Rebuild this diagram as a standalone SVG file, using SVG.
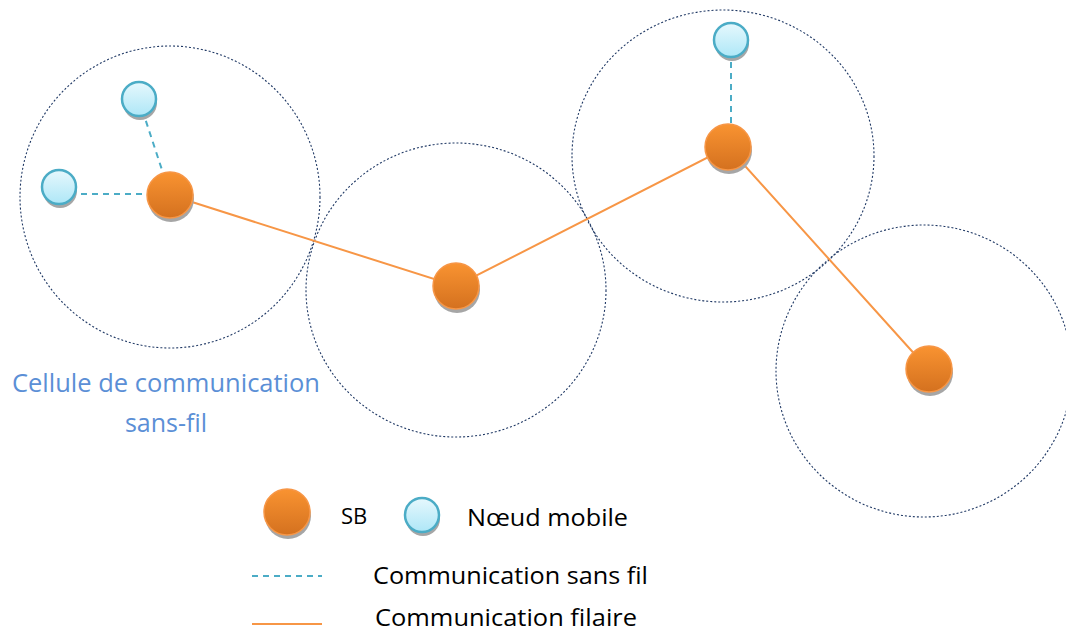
<svg xmlns="http://www.w3.org/2000/svg" width="1066" height="633" viewBox="0 0 1066 633">
<style>
.cell{fill:none;stroke:#1f3864;stroke-width:1.1;stroke-dasharray:2 2}
.wired{stroke:#f79646;stroke-width:2;fill:none}
.wl{stroke:#4bacc6;stroke-width:2;stroke-dasharray:6 5;fill:none}
.sb{fill:url(#gO);stroke:#f79646;stroke-width:1.5}
.mn{fill:url(#gB);stroke:#4bacc6;stroke-width:2.5}
.sh{fill:#a6a6a6}
.t{font-family:"Open Sans","Liberation Sans",sans-serif;fill:#000}
.lab{font-family:"Open Sans","Liberation Sans",sans-serif;fill:#5b8fd6}
</style>
<defs>
<linearGradient id="gO" x1="0" y1="0" x2="0" y2="1">
<stop offset="0" stop-color="#f99331"/>
<stop offset="1" stop-color="#d4711f"/>
</linearGradient>
<linearGradient id="gB" x1="0" y1="0" x2="0" y2="1">
<stop offset="0" stop-color="#e6f8fd"/>
<stop offset="1" stop-color="#aee7f7"/>
</linearGradient>
</defs>
<rect width="1066" height="633" fill="#fff"/>
<g id="cells">
<ellipse class="cell" cx="170" cy="197" rx="150" ry="151"/>
<ellipse class="cell" cx="456" cy="290" rx="150" ry="147"/>
<ellipse class="cell" cx="723" cy="156" rx="151" ry="146"/>
<ellipse class="cell" cx="924" cy="371" rx="148" ry="146"/>
</g>
<g id="connectors">
<polyline class="wired" points="170,195 456,286 728,147 928,369"/>
<line class="wl" x1="139" y1="100" x2="164" y2="176"/>
<line class="wl" x1="59" y1="194" x2="150" y2="194"/>
<line class="wl" x1="731" y1="40" x2="731" y2="126"/>
</g>
<g id="sb1"><circle class="sh" cx="171" cy="199" r="23"/><circle class="sb" cx="170" cy="195" r="23"/></g>
<g id="sb2"><circle class="sh" cx="457" cy="290" r="23"/><circle class="sb" cx="456" cy="286" r="23"/></g>
<g id="sb3"><circle class="sh" cx="729" cy="151" r="23"/><circle class="sb" cx="728" cy="147" r="23"/></g>
<g id="sb4"><circle class="sh" cx="930" cy="373" r="23"/><circle class="sb" cx="929" cy="369" r="23"/></g>
<g id="m1"><circle class="sh" cx="140" cy="103" r="17"/><circle class="mn" cx="139" cy="99" r="17"/></g>
<g id="m2"><circle class="sh" cx="60" cy="191" r="17"/><circle class="mn" cx="59" cy="187" r="17"/></g>
<g id="m3"><circle class="sh" cx="732" cy="44" r="17"/><circle class="mn" cx="731" cy="40" r="17"/></g>
<g id="cell-label">
<text class="lab" x="12" y="392" font-size="25" textLength="308" lengthAdjust="spacingAndGlyphs">Cellule de communication</text>
<text class="lab" x="166" y="432" font-size="25" text-anchor="middle">sans-fil</text>
</g>
<g id="legend">
<circle class="sh" cx="288" cy="516" r="23"/><circle class="sb" cx="287" cy="512" r="23"/>
<text class="t" x="341" y="524" font-size="22">SB</text>
<circle class="sh" cx="423" cy="519" r="17"/><circle class="mn" cx="422" cy="515" r="17"/>
<text class="t" x="467" y="526" font-size="24" textLength="161" lengthAdjust="spacingAndGlyphs">Nœud mobile</text>
<line class="wl" x1="252" y1="576" x2="322" y2="576"/>
<text class="t" x="373" y="584" font-size="24" textLength="275" lengthAdjust="spacingAndGlyphs">Communication sans fil</text>
<line class="wired" x1="252" y1="624" x2="322" y2="624"/>
<text class="t" x="375" y="626" font-size="23" textLength="262" lengthAdjust="spacingAndGlyphs">Communication filaire</text>
</g>
</svg>
